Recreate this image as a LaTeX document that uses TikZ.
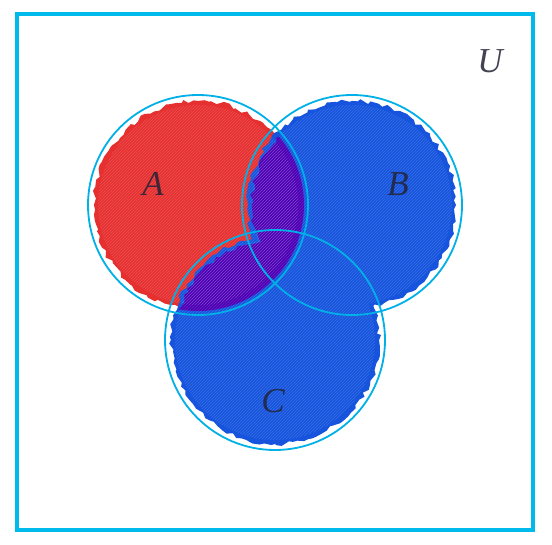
\documentclass[tikz,border=0pt]{standalone}
\usepackage{fontspec}
\setmainfont{Liberation Serif}
\usetikzlibrary{decorations.pathmorphing,patterns}
\definecolor{frame}{RGB}{0,186,236}
\definecolor{ring}{RGB}{0,176,230}
\definecolor{redfill}{RGB}{230,48,48}
\definecolor{bluefill}{RGB}{22,84,222}
\definecolor{purplefill}{RGB}{78,0,182}
\definecolor{labelc}{RGB}{35,35,55}
\tikzset{
  crayon/.style={decorate,decoration={random steps,segment length=5pt,amplitude=2.2pt}},
  ringline/.style={draw=ring,line width=1.8pt},
  setlabel/.style={font=\fontsize{35}{35}\selectfont\itshape,text=labelc,text opacity=0.85},
  streaks/.style={pattern=north east lines,pattern color=white,opacity=0.15}
}
\begin{document}
\begin{tikzpicture}[x=1pt,y=-1pt]
\useasboundingbox (0,0) rectangle (552,545);
\fill[white] (0,0) rectangle (552,545);
% fills
\fill[redfill,crayon] (198,205) circle[radius=104];
\fill[bluefill,crayon] (352,205) circle[radius=104];
\fill[bluefill,crayon] (275,340) circle[radius=104];
\begin{scope}
  \clip (198,205) circle[radius=106];
  \fill[purplefill,crayon] (352,205) circle[radius=100];
  \fill[purplefill,crayon] (275,340) circle[radius=100];
\end{scope}
\fill[streaks] (198,205) circle[radius=100];
\begin{scope}
  \clip (352,205) circle[radius=100] (275,340) circle[radius=100];
  \fill[streaks] (170,100) rectangle (460,445);
\end{scope}
% circles
\node[ringline,circle,minimum size=220pt,inner sep=0pt] (A) at (198,205) {};
\node[ringline,circle,minimum size=220pt,inner sep=0pt] (B) at (352,205) {};
\node[ringline,circle,minimum size=220pt,inner sep=0pt] (C) at (275,340) {};
% frame
\node[draw=frame,line width=4pt,minimum width=516pt,minimum height=516pt,inner sep=0pt] (U) at (275,272) {};
% labels
\node[setlabel] (la) at (153,184) {A};
\node[setlabel] (lb) at (398,184) {B};
\node[setlabel] (lc) at (273,401) {C};
\node[setlabel] (lu) at (490,61) {U};
\end{tikzpicture}
\end{document}
